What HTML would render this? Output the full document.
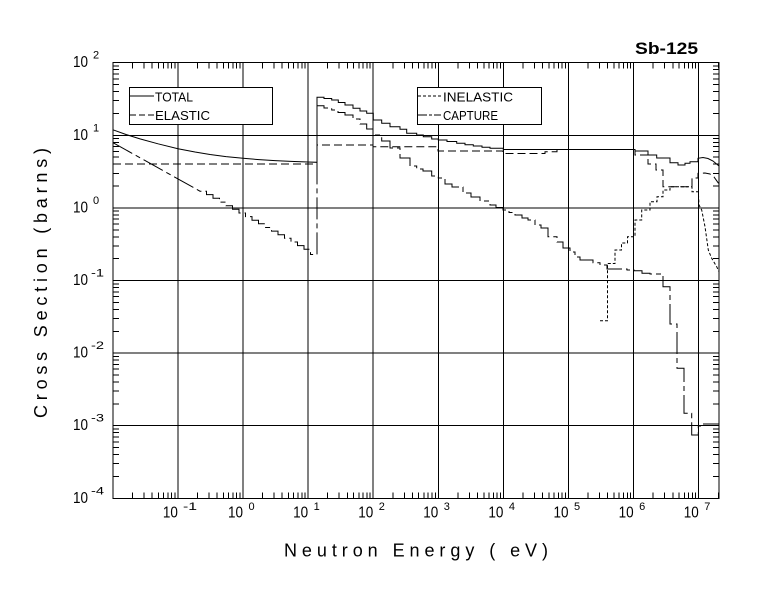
<!DOCTYPE html>
<html><head><meta charset="utf-8"><style>
html,body{margin:0;padding:0;background:#fff;}
svg{display:block;}
text{font-family:"Liberation Sans",sans-serif;fill:#000;}
</style></head><body>
<svg width="780" height="590" viewBox="0 0 780 590" xmlns="http://www.w3.org/2000/svg">
<rect x="0" y="0" width="780" height="590" fill="#fff"/>
<defs>
<g id="xt" stroke="#000" stroke-width="1">
<path d="M19.6,62.7v6M31.06,62.7v6M39.19,62.7v6M45.5,62.7v6M50.66,62.7v6M55.01,62.7v6M58.79,62.7v6M62.12,62.7v6"/>
<path d="M19.6,498.3v-6M31.06,498.3v-6M39.19,498.3v-6M45.5,498.3v-6M50.66,498.3v-6M55.01,498.3v-6M58.79,498.3v-6M62.12,498.3v-6"/>
</g>
<g id="yt" stroke="#000" stroke-width="1">
<path d="M113,-21.85h6M113,-34.64h6M113,-43.71h6M113,-50.75h6M113,-56.49h6M113,-61.35h6M113,-65.56h6M113,-69.28h6"/>
<path d="M719,-21.85h-6M719,-34.64h-6M719,-43.71h-6M719,-50.75h-6M719,-56.49h-6M719,-61.35h-6M719,-65.56h-6M719,-69.28h-6"/>
</g>
</defs>
<g shape-rendering="crispEdges">
<!-- grid -->
<g stroke="#000" stroke-width="1" fill="none">
<path d="M113,135.3H719M113,207.9H719M113,280.5H719M113,353.1H719M113,425.7H719"/>
<path d="M177.9,62.7V498.3M243,62.7V498.3M308.1,62.7V498.3M373.2,62.7V498.3M438.3,62.7V498.3M503.4,62.7V498.3M568.5,62.7V498.3M633.6,62.7V498.3M698.7,62.7V498.3"/>
<rect x="113" y="62.7" width="606" height="435.6"/>
</g>
<use href="#xt" transform="translate(112.8,0)"/>
<use href="#xt" transform="translate(177.9,0)"/>
<use href="#xt" transform="translate(243,0)"/>
<use href="#xt" transform="translate(308.1,0)"/>
<use href="#xt" transform="translate(373.2,0)"/>
<use href="#xt" transform="translate(438.3,0)"/>
<use href="#xt" transform="translate(503.4,0)"/>
<use href="#xt" transform="translate(568.5,0)"/>
<use href="#xt" transform="translate(633.6,0)"/>
<path d="M718.3,62.7v6M718.3,498.3v-6" stroke="#000"/>
<use href="#yt" transform="translate(0,498.3)"/>
<use href="#yt" transform="translate(0,425.7)"/>
<use href="#yt" transform="translate(0,353.1)"/>
<use href="#yt" transform="translate(0,280.5)"/>
<use href="#yt" transform="translate(0,207.9)"/>
<use href="#yt" transform="translate(0,135.3)"/>
</g>

<!-- curves -->
<g fill="none" stroke="#000" stroke-width="1">
<!-- total -->
<path d="M113,129.8 L126,134.5 L140,138.9 L158,143.8 L178,148.7 L195,152 L210,154.5 L226,156.6 L243,158.3 L259,159.6 L275,160.6 L291,161.4 L308,162 L317,162.3 V97.3 H324 V98.5 H331.7 V100 H338.3 V102.5 H345 V105 H353 V108.3 H360 V111 H366.7 V113.3 H373.3 V120 H381.7 V123.3 H390 V126.7 H400 V129.3 H406.7 V133.3 H416.7 V135 H423.3 V136.7 H431.7 V139 H438.3 V140 H447 V141.5 H456.7 V143.3 H465 V144.8 H473.3 V146 H482 V147.3 H490 V148.3 H503.3 V149.5 H635 V151 H648 V155 H656.7 V158 H670 V162.7 H678 V165 H685 V163.3 H690 V161.7 H698 V158.3 L703,157.5 L708,158.5 L713,161 L719,166"/>
<!-- elastic -->
<path stroke-dasharray="8,4" d="M113,164 H317 V145 H373 V146.7 H438 V151 H503 V153.5 H545 V151.7 H557 V149.5 H635 V155 H648 V164 H656 V170 H663 V186.7 H692 V178 H698 V173.3 L705,173 L710,174 L714,177 L719,184"/>
<!-- inelastic -->
<path stroke-dasharray="3,2" d="M600,320.7 H607.5 V263.5 H615 V250 H621.5 V243 H627.5 V236.7 H635 V220 H641.7 V210 H650 V201.7 H657 V196.7 H663 V190 H670 V186.7 H692 V191.7 H698.3 L699,205 L701.7,210 L705,226.7 L708.3,250 L711.7,258.3 L716.7,266.7 L719,271.7"/>
<!-- capture -->
<path stroke-dasharray="22,4,5,4" d="M113,142.7 L200,191.2 H206.5 V194.6 H213 V198.3 H219.5 V202.1 H226 V205.7 H232.5 V209.3 H239 V213 H245.5 V216.6 H252 V220.2 H258.5 V223.8 H265 V227.5 H271.5 V231.1 H278 V234.7 H284.5 V238.3 H291 V242 H297.5 V245.6 H304 V249.2 H310.5 V254.5 H317 V105.7 H324 V108 H331.7 V110 H338 V112.5 H345 V115 H353 V119 H360 V124 H366.7 V129 H373 V135 H381.7 V141 H390 V148 H400 V158 H410 V166 H416.7 V169 H423 V171 H431.7 V176 H438.3 V178 H445 V184 H452 V187 H463 V193 H471 V197 H480 V201 H490 V205 H496 V207.5 H503 V210 H509 V212.5 H515 V215 H522 V218 H528 V220 H535 V225 H541 V228 H548 V236.7 H557 V242 H563 V248 H570 V252 H575 V257 H580 V260 H593 V262.7 H600 V265 H607 V269 H627 V270 H634 V270.7 H642 V273.3 H650 V274 H663 V286.7 H670 V324 H677 V368.3 H684 V413.3 H691.7 V435 H698.3 V426 H702 V424 H719"/>
</g>

<!-- legends -->
<g shape-rendering="crispEdges">
<rect x="129.5" y="87.5" width="143" height="37" fill="#fff" stroke="#000" stroke-width="1"/>
<rect x="417.5" y="87.5" width="124" height="37" fill="#fff" stroke="#000" stroke-width="1"/>
<path d="M130,96H154" stroke="#000"/>
<path d="M130,115H154" stroke="#000" stroke-dasharray="6,3"/>
<path d="M418,96H441" stroke="#000" stroke-dasharray="3,2"/>
<path d="M418,115H441" stroke="#000" stroke-dasharray="9,2,3,2"/>
</g>
<text x="155" y="101.5" font-size="13" textLength="38" lengthAdjust="spacingAndGlyphs">TOTAL</text>
<text x="155" y="120" font-size="13" textLength="55" lengthAdjust="spacingAndGlyphs">ELASTIC</text>
<text x="443" y="101.5" font-size="13" textLength="70" lengthAdjust="spacingAndGlyphs">INELASTIC</text>
<text x="443" y="120" font-size="13" textLength="55" lengthAdjust="spacingAndGlyphs">CAPTURE</text>

<!-- title -->
<text x="635" y="54" font-size="17" font-weight="bold" textLength="63" lengthAdjust="spacingAndGlyphs">Sb-125</text>

<!-- y tick labels -->
<g font-size="16">
<text x="73" y="67.2" textLength="15" lengthAdjust="spacingAndGlyphs">10</text>
<text x="73" y="139.8" textLength="15" lengthAdjust="spacingAndGlyphs">10</text>
<text x="73" y="212.4" textLength="15" lengthAdjust="spacingAndGlyphs">10</text>
<text x="73" y="285" textLength="15" lengthAdjust="spacingAndGlyphs">10</text>
<text x="73" y="357.6" textLength="15" lengthAdjust="spacingAndGlyphs">10</text>
<text x="73" y="430.2" textLength="15" lengthAdjust="spacingAndGlyphs">10</text>
<text x="73" y="502.8" textLength="15" lengthAdjust="spacingAndGlyphs">10</text>
</g>
<g font-size="11">
<text x="93" y="58.7">2</text>
<text x="93" y="131.3">1</text>
<text x="93" y="203.9">0</text>
<text x="91" y="276.5" textLength="13" lengthAdjust="spacingAndGlyphs">-1</text>
<text x="91" y="349.1" textLength="13" lengthAdjust="spacingAndGlyphs">-2</text>
<text x="91" y="421.7" textLength="13" lengthAdjust="spacingAndGlyphs">-3</text>
<text x="91" y="494.3" textLength="13" lengthAdjust="spacingAndGlyphs">-4</text>
</g>

<!-- x tick labels -->
<g font-size="16">
<text x="162.9" y="517.5" textLength="15" lengthAdjust="spacingAndGlyphs">10</text>
<text x="228" y="517.5" textLength="15" lengthAdjust="spacingAndGlyphs">10</text>
<text x="293.1" y="517.5" textLength="15" lengthAdjust="spacingAndGlyphs">10</text>
<text x="358.2" y="517.5" textLength="15" lengthAdjust="spacingAndGlyphs">10</text>
<text x="423.3" y="517.5" textLength="15" lengthAdjust="spacingAndGlyphs">10</text>
<text x="488.4" y="517.5" textLength="15" lengthAdjust="spacingAndGlyphs">10</text>
<text x="553.5" y="517.5" textLength="15" lengthAdjust="spacingAndGlyphs">10</text>
<text x="618.6" y="517.5" textLength="15" lengthAdjust="spacingAndGlyphs">10</text>
<text x="683.7" y="517.5" textLength="15" lengthAdjust="spacingAndGlyphs">10</text>
</g>
<g font-size="11">
<text x="183" y="510" textLength="14" lengthAdjust="spacingAndGlyphs">-1</text>
<text x="248.5" y="510">0</text>
<text x="313.6" y="510">1</text>
<text x="378.7" y="510">2</text>
<text x="443.8" y="510">3</text>
<text x="508.9" y="510">4</text>
<text x="574" y="510">5</text>
<text x="639.1" y="510">6</text>
<text x="704.2" y="510">7</text>
</g>

<!-- axis titles -->
<text x="284" y="556.7" font-size="18" textLength="264" lengthAdjust="spacing">Neutron Energy ( eV)</text>
<text transform="translate(47,418) rotate(-90)" x="0" y="0" font-size="18" textLength="270" lengthAdjust="spacing">Cross Section (barns)</text>
</svg>
</body></html>
